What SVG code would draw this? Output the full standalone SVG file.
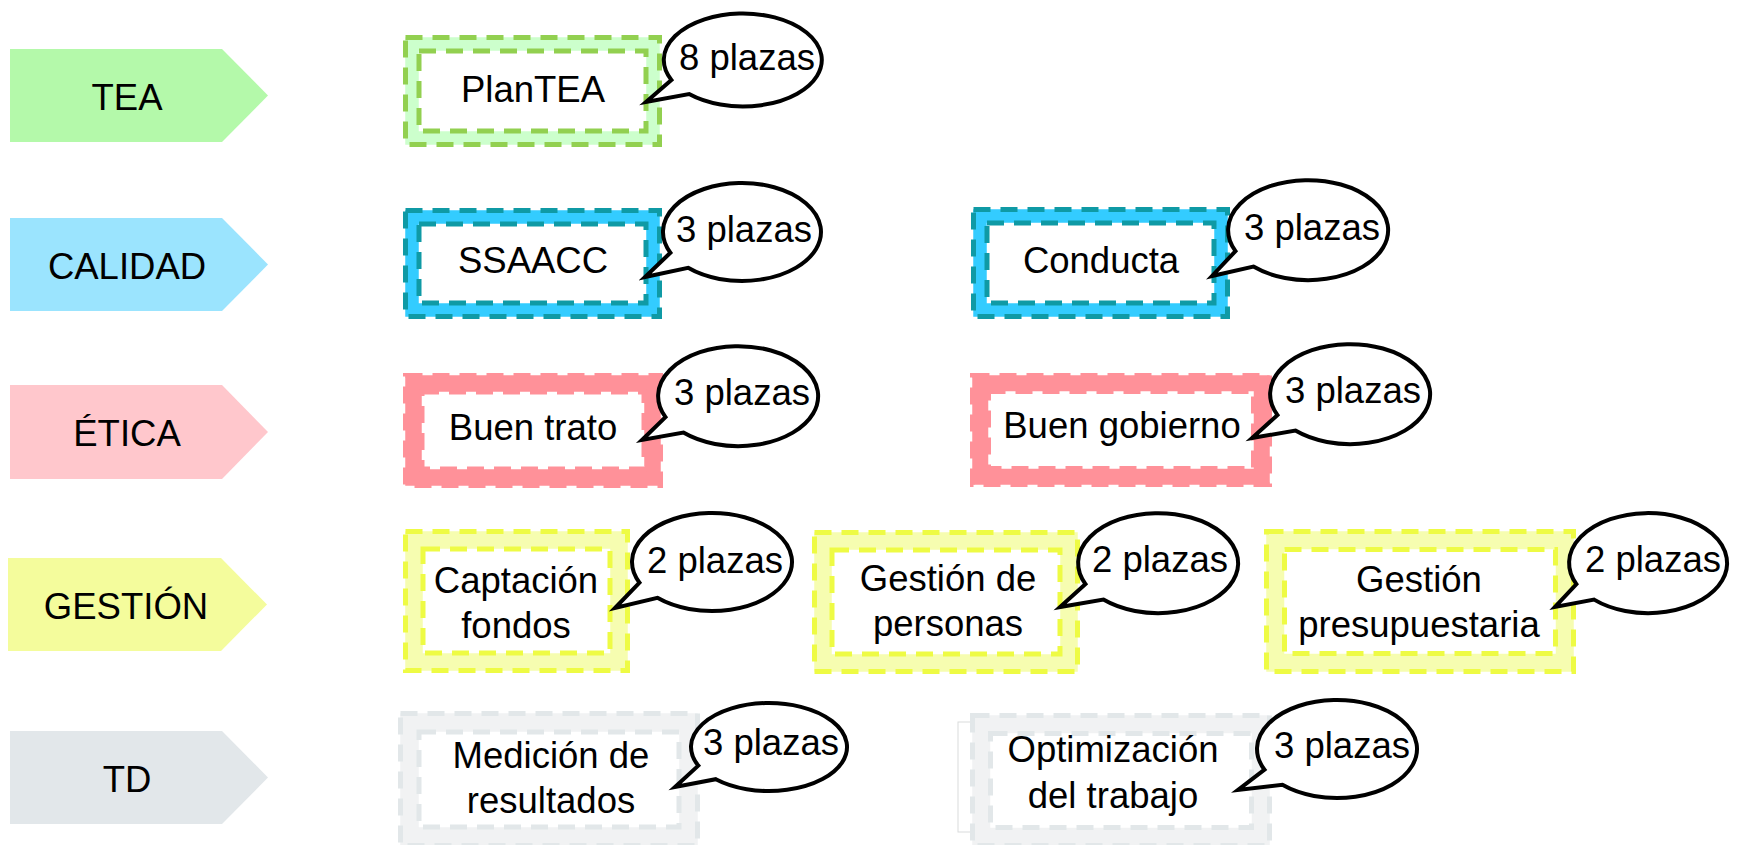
<svg xmlns="http://www.w3.org/2000/svg" width="1743" height="845" viewBox="0 0 1743 845">
<style>
text{font-family:"Liberation Sans",Arial,sans-serif;font-size:36.5px;fill:#000;text-anchor:middle}
.band{fill:#fff}
.dash{fill:none;stroke-width:5;stroke-dasharray:17 10}
.callout{fill:#fff;stroke:#000;stroke-width:4;stroke-linejoin:miter}
.tea .band{stroke:#CCFFCC}.tea .dash{stroke:#92D050}
.cal .band{stroke:#33CCFF}.cal .dash{stroke:#0F9AA5}
.eti .band{stroke:#FF9199}.eti .dash{stroke:#FF9199}
.ges .band{stroke:#F6FDB0}.ges .dash{stroke:#EEFB44}
.td .band{stroke:#F1F2F3}.td .dash{stroke:#E2E7E9}
</style>

<g id="cat-tea"><path d="M10,49H222L268,95.5L222,142H10Z" fill="#B4F9AA"/><text x="127" y="109.5">TEA</text></g>
<g id="cat-calidad"><path d="M10,218H222L268,264.5L222,311H10Z" fill="#9BE4FE"/><text x="127" y="278.5">CALIDAD</text></g>
<g id="cat-etica"><path d="M10,385H222L268,432L222,479H10Z" fill="#FFC7CC"/><text x="127" y="446">ÉTICA</text></g>
<g id="cat-gestion"><path d="M8,558H221L267,604.5L221,651H8Z" fill="#F4FC9C"/><text x="126" y="618.5">GESTIÓN</text></g>
<g id="cat-td"><path d="M10,731H222L268,777.5L222,824H10Z" fill="#E2E7EA"/><text x="127" y="791.5">TD</text></g>

<g id="node-plantea" class="tea">
<rect class="band" x="412" y="44" width="241" height="94" stroke-width="13.5"/>
<rect class="dash" x="405.5" y="37.5" width="254" height="107"/>
<rect class="dash" x="419" y="51" width="227" height="80"/>
<text x="533" y="102">PlanTEA</text>
<path class="callout" d="M671.4,79.9L646,102L689.1,94.1A79,46.5 0 1 0 671.4,79.9Z"/>
<text x="747" y="70">8 plazas</text>
</g>

<g id="node-ssaacc" class="cal">
<rect class="band" x="412" y="217" width="241" height="93" stroke-width="13.5"/>
<rect class="dash" x="405.5" y="210.5" width="254" height="106"/>
<rect class="dash" x="419" y="224" width="227" height="79"/>
<text x="533" y="273">SSAACC</text>
<path class="callout" d="M670.4,252.7L645,277L688.1,267.8A79,49 0 1 0 670.4,252.7Z"/>
<text x="744" y="242">3 plazas</text>
</g>

<g id="node-conducta" class="cal">
<rect class="band" x="980" y="216" width="241" height="94" stroke-width="13.5"/>
<rect class="dash" x="973.5" y="209.5" width="254" height="107"/>
<rect class="dash" x="987" y="223" width="227" height="80"/>
<text x="1101" y="273">Conducta</text>
<path class="callout" d="M1235.5,251.1L1212,276L1253.4,266.6A80,50 0 1 0 1235.5,251.1Z"/>
<text x="1312" y="240">3 plazas</text>
</g>

<g id="node-buen-trato" class="eti">
<rect class="band" x="413.5" y="383.5" width="239" height="94" stroke-width="16.5"/>
<rect class="dash" x="405.5" y="375.5" width="255" height="110"/>
<rect class="dash" x="422" y="392" width="222" height="77"/>
<text x="533" y="440">Buen trato</text>
<path class="callout" d="M665.5,417.1L642,440L683.4,432.6A80,50 0 1 0 665.5,417.1Z"/>
<text x="742" y="405">3 plazas</text>
</g>

<g id="node-buen-gobierno" class="eti">
<rect class="band" x="980.25" y="383.25" width="281.5" height="93.5" stroke-width="16"/>
<rect class="dash" x="972.5" y="375.5" width="297" height="109"/>
<rect class="dash" x="988.5" y="391.5" width="265" height="77"/>
<text x="1122" y="438">Buen gobierno</text>
<path class="callout" d="M1277.5,415.1L1252,438L1295.4,430.6A80,50 0 1 0 1277.5,415.1Z"/>
<text x="1353" y="403">3 plazas</text>
</g>

<g id="node-captacion" class="ges">
<rect class="band" x="414" y="540" width="205" height="122" stroke-width="17.5"/>
<rect class="dash" x="405.5" y="531.5" width="222" height="139"/>
<rect class="dash" x="423" y="549" width="187" height="104"/>
<text x="516" y="593">Captación</text>
<text x="516" y="638">fondos</text>
<path class="callout" d="M639.5,582.7L615,608L657.4,597.8A80,49 0 1 0 639.5,582.7Z"/>
<text x="715" y="573">2 plazas</text>
</g>

<g id="node-gestion-personas" class="ges">
<rect class="band" x="823" y="541" width="246" height="122" stroke-width="17.5"/>
<rect class="dash" x="814.5" y="532.5" width="263" height="139"/>
<rect class="dash" x="832" y="550" width="228" height="104"/>
<text x="948" y="591">Gestión de</text>
<text x="948" y="636">personas</text>
<path class="callout" d="M1085.5,584.1L1060,607L1103.4,599.6A80,50 0 1 0 1085.5,584.1Z"/>
<text x="1160" y="572">2 plazas</text>
</g>

<g id="node-gestion-presupuestaria" class="ges">
<rect class="band" x="1275.25" y="540.25" width="289.5" height="122.5" stroke-width="18"/>
<rect class="dash" x="1266.5" y="531.5" width="307" height="140"/>
<rect class="dash" x="1284.5" y="549.5" width="271" height="104"/>
<text x="1419" y="592">Gestión</text>
<text x="1419" y="637">presupuestaria</text>
<path class="callout" d="M1576.4,584.1L1555,607L1594.1,599.6A79,50 0 1 0 1576.4,584.1Z"/>
<text x="1653" y="572">2 plazas</text>
</g>

<g id="node-medicion" class="td">
<rect class="band" x="409.5" y="722.5" width="279" height="114" stroke-width="18.5"/>
<rect class="dash" x="400.5" y="713.5" width="297" height="132"/>
<rect class="dash" x="419" y="732" width="260" height="95"/>
<text x="551" y="768">Medición de</text>
<text x="551" y="813">resultados</text>
<path class="callout" d="M698.3,765.6L675,787L715.8,779.2A78,44 0 1 0 698.3,765.6Z"/>
<text x="771" y="755">3 plazas</text>
</g>

<g id="node-optimizacion" class="td">
<rect x="958" y="722" width="305" height="110" fill="none" stroke="#D9DBDC" stroke-width="1"/>
<rect class="band" x="981.25" y="724.25" width="279.5" height="112.5" stroke-width="18"/>
<rect class="dash" x="972.5" y="715.5" width="297" height="130"/>
<rect class="dash" x="990.5" y="733.5" width="261" height="94"/>
<text x="1113" y="762">Optimización</text>
<text x="1113" y="808">del trabajo</text>
<path class="callout" d="M1264.5,769.7L1238,790L1282.4,784.8A80,49 0 1 0 1264.5,769.7Z"/>
<text x="1342" y="758">3 plazas</text>
</g>
</svg>
